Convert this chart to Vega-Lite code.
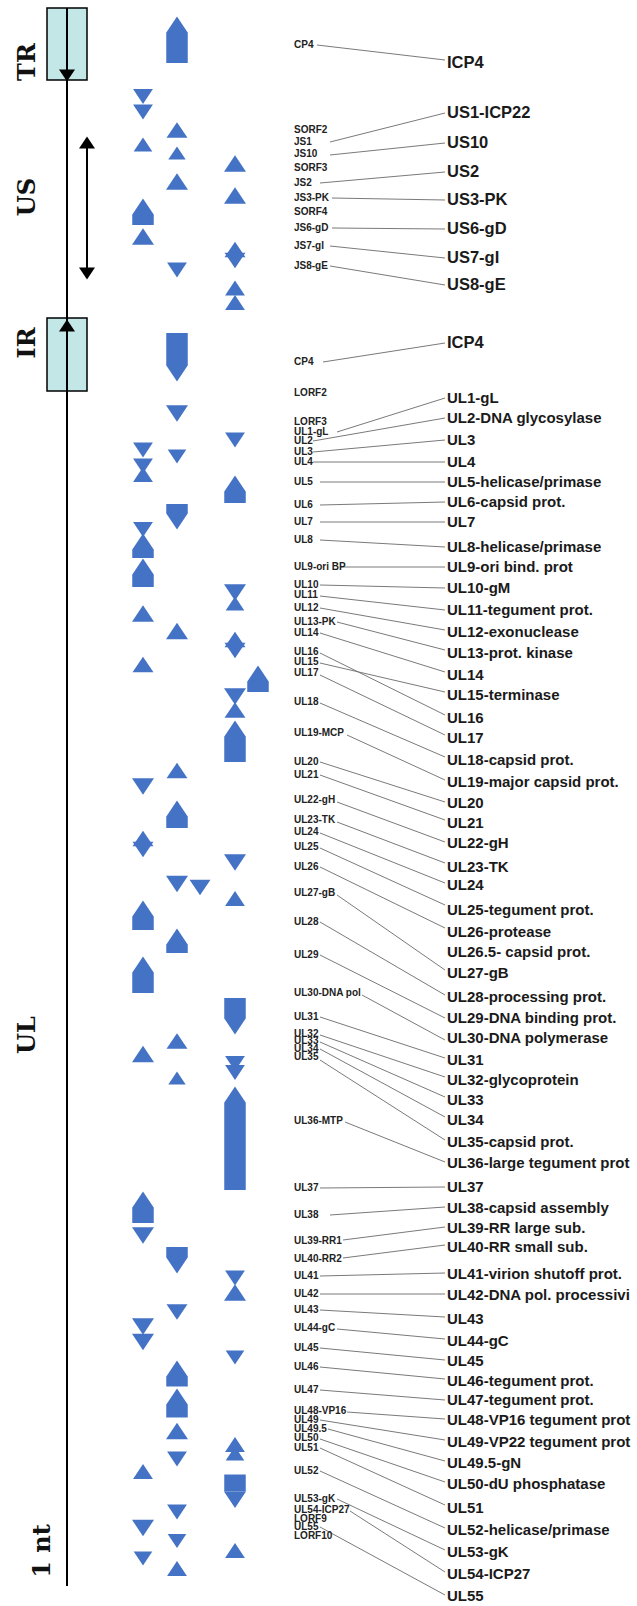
{
  "$schema": "https://vega.github.io/schema/vega-lite/v6.json",
  "width": 637,
  "height": 1606,
  "padding": 0,
  "autosize": {"type": "fit", "contains": "padding"},
  "background": "white",
  "view": {"stroke": null},
  "datasets": {
    "boxes": [
      {"left": 47, "right": 87, "top": 8, "bottom": 80},
      {"left": 47, "right": 87, "top": 318, "bottom": 391}
    ],
    "spines": [
      {"lane": 67, "top": 8, "bottom": 1586},
      {"lane": 87, "top": 142, "bottom": 274}
    ],
    "bodies": [
      {"lane": 177, "top": 33, "bottom": 63},
      {"lane": 143, "top": 215, "bottom": 225},
      {"lane": 177, "top": 333, "bottom": 365},
      {"lane": 235, "top": 492, "bottom": 503},
      {"lane": 177, "top": 504, "bottom": 513},
      {"lane": 143, "top": 550, "bottom": 558},
      {"lane": 143, "top": 575, "bottom": 587},
      {"lane": 258, "top": 682, "bottom": 692},
      {"lane": 235, "top": 737, "bottom": 762},
      {"lane": 177, "top": 817, "bottom": 828},
      {"lane": 143, "top": 917, "bottom": 930},
      {"lane": 177, "top": 945, "bottom": 953},
      {"lane": 143, "top": 973, "bottom": 993},
      {"lane": 235, "top": 998, "bottom": 1018},
      {"lane": 235, "top": 1103, "bottom": 1190},
      {"lane": 143, "top": 1208, "bottom": 1223},
      {"lane": 177, "top": 1247, "bottom": 1257},
      {"lane": 177, "top": 1377, "bottom": 1386.5},
      {"lane": 177, "top": 1405, "bottom": 1417.5},
      {"lane": 235, "top": 1474.5, "bottom": 1491.5}
    ],
    "heads": [
      {"lane": 177, "pos": 24.75, "dir": "up", "sz": "L", "kind": "gene"},
      {"lane": 143, "pos": 96.5, "dir": "down", "sz": "S", "kind": "gene"},
      {"lane": 143, "pos": 112, "dir": "down", "sz": "S", "kind": "gene"},
      {"lane": 143, "pos": 144.5, "dir": "up", "sz": "T", "kind": "gene"},
      {"lane": 177, "pos": 130, "dir": "up", "sz": "M", "kind": "gene"},
      {"lane": 177, "pos": 153, "dir": "up", "sz": "D", "kind": "gene"},
      {"lane": 177, "pos": 181.5, "dir": "up", "sz": "L", "kind": "gene"},
      {"lane": 235, "pos": 163.5, "dir": "up", "sz": "L", "kind": "gene"},
      {"lane": 235, "pos": 195.5, "dir": "up", "sz": "L", "kind": "gene"},
      {"lane": 235, "pos": 249.5, "dir": "up", "sz": "M", "kind": "gene"},
      {"lane": 235, "pos": 260.5, "dir": "down", "sz": "M", "kind": "gene"},
      {"lane": 235, "pos": 288, "dir": "up", "sz": "S", "kind": "gene"},
      {"lane": 235, "pos": 302.5, "dir": "up", "sz": "S", "kind": "gene"},
      {"lane": 143, "pos": 206.75, "dir": "up", "sz": "L", "kind": "gene"},
      {"lane": 143, "pos": 236.5, "dir": "up", "sz": "L", "kind": "gene"},
      {"lane": 177, "pos": 270, "dir": "down", "sz": "S", "kind": "gene"},
      {"lane": 177, "pos": 373.25, "dir": "down", "sz": "L", "kind": "gene"},
      {"lane": 177, "pos": 413.5, "dir": "down", "sz": "L", "kind": "gene"},
      {"lane": 235, "pos": 440, "dir": "down", "sz": "S", "kind": "gene"},
      {"lane": 143, "pos": 450, "dir": "down", "sz": "S", "kind": "gene"},
      {"lane": 143, "pos": 466, "dir": "down", "sz": "S", "kind": "gene"},
      {"lane": 143, "pos": 474.5, "dir": "up", "sz": "S", "kind": "gene"},
      {"lane": 177, "pos": 456.5, "dir": "down", "sz": "T", "kind": "gene"},
      {"lane": 235, "pos": 483.75, "dir": "up", "sz": "L", "kind": "gene"},
      {"lane": 177, "pos": 521.25, "dir": "down", "sz": "L", "kind": "gene"},
      {"lane": 143, "pos": 529.5, "dir": "down", "sz": "S", "kind": "gene"},
      {"lane": 143, "pos": 541.75, "dir": "up", "sz": "L", "kind": "gene"},
      {"lane": 143, "pos": 566.75, "dir": "up", "sz": "L", "kind": "gene"},
      {"lane": 235, "pos": 592.5, "dir": "down", "sz": "L", "kind": "gene"},
      {"lane": 235, "pos": 603.5, "dir": "up", "sz": "T", "kind": "gene"},
      {"lane": 143, "pos": 613.5, "dir": "up", "sz": "L", "kind": "gene"},
      {"lane": 177, "pos": 631, "dir": "up", "sz": "L", "kind": "gene"},
      {"lane": 235, "pos": 639.5, "dir": "up", "sz": "M", "kind": "gene"},
      {"lane": 235, "pos": 650.5, "dir": "down", "sz": "M", "kind": "gene"},
      {"lane": 143, "pos": 664.5, "dir": "up", "sz": "M", "kind": "gene"},
      {"lane": 258, "pos": 673.75, "dir": "up", "sz": "L", "kind": "gene"},
      {"lane": 235, "pos": 696.5, "dir": "down", "sz": "L", "kind": "gene"},
      {"lane": 235, "pos": 710, "dir": "up", "sz": "M", "kind": "gene"},
      {"lane": 235, "pos": 728.75, "dir": "up", "sz": "L", "kind": "gene"},
      {"lane": 177, "pos": 770.5, "dir": "up", "sz": "M", "kind": "gene"},
      {"lane": 143, "pos": 786.5, "dir": "down", "sz": "L", "kind": "gene"},
      {"lane": 177, "pos": 808.75, "dir": "up", "sz": "L", "kind": "gene"},
      {"lane": 143, "pos": 838.5, "dir": "up", "sz": "M", "kind": "gene"},
      {"lane": 143, "pos": 849.5, "dir": "down", "sz": "M", "kind": "gene"},
      {"lane": 235, "pos": 862.5, "dir": "down", "sz": "L", "kind": "gene"},
      {"lane": 177, "pos": 884, "dir": "down", "sz": "L", "kind": "gene"},
      {"lane": 200, "pos": 887.5, "dir": "down", "sz": "M", "kind": "gene"},
      {"lane": 235, "pos": 898.5, "dir": "up", "sz": "S", "kind": "gene"},
      {"lane": 143, "pos": 908.75, "dir": "up", "sz": "L", "kind": "gene"},
      {"lane": 177, "pos": 936.75, "dir": "up", "sz": "L", "kind": "gene"},
      {"lane": 143, "pos": 964.75, "dir": "up", "sz": "L", "kind": "gene"},
      {"lane": 235, "pos": 1026.25, "dir": "down", "sz": "L", "kind": "gene"},
      {"lane": 177, "pos": 1041, "dir": "up", "sz": "M", "kind": "gene"},
      {"lane": 143, "pos": 1054, "dir": "up", "sz": "L", "kind": "gene"},
      {"lane": 235, "pos": 1063.5, "dir": "down", "sz": "S", "kind": "gene"},
      {"lane": 235, "pos": 1072.5, "dir": "down", "sz": "S", "kind": "gene"},
      {"lane": 177, "pos": 1078, "dir": "up", "sz": "D", "kind": "gene"},
      {"lane": 235, "pos": 1094.75, "dir": "up", "sz": "L", "kind": "gene"},
      {"lane": 143, "pos": 1199.75, "dir": "up", "sz": "L", "kind": "gene"},
      {"lane": 143, "pos": 1235.5, "dir": "down", "sz": "L", "kind": "gene"},
      {"lane": 177, "pos": 1265.25, "dir": "down", "sz": "L", "kind": "gene"},
      {"lane": 235, "pos": 1278, "dir": "down", "sz": "S", "kind": "gene"},
      {"lane": 235, "pos": 1292.5, "dir": "up", "sz": "L", "kind": "gene"},
      {"lane": 177, "pos": 1312, "dir": "down", "sz": "M", "kind": "gene"},
      {"lane": 143, "pos": 1326.5, "dir": "down", "sz": "L", "kind": "gene"},
      {"lane": 143, "pos": 1342, "dir": "down", "sz": "L", "kind": "gene"},
      {"lane": 235, "pos": 1357.5, "dir": "down", "sz": "T", "kind": "gene"},
      {"lane": 177, "pos": 1368.75, "dir": "up", "sz": "L", "kind": "gene"},
      {"lane": 177, "pos": 1396.75, "dir": "up", "sz": "L", "kind": "gene"},
      {"lane": 177, "pos": 1431, "dir": "up", "sz": "L", "kind": "gene"},
      {"lane": 235, "pos": 1444.5, "dir": "up", "sz": "S", "kind": "gene"},
      {"lane": 235, "pos": 1453.5, "dir": "up", "sz": "T", "kind": "gene"},
      {"lane": 177, "pos": 1459, "dir": "down", "sz": "S", "kind": "gene"},
      {"lane": 143, "pos": 1471.5, "dir": "up", "sz": "S", "kind": "gene"},
      {"lane": 235, "pos": 1499.75, "dir": "down", "sz": "L", "kind": "gene"},
      {"lane": 177, "pos": 1512, "dir": "down", "sz": "S", "kind": "gene"},
      {"lane": 143, "pos": 1528, "dir": "down", "sz": "L", "kind": "gene"},
      {"lane": 177, "pos": 1541, "dir": "down", "sz": "T", "kind": "gene"},
      {"lane": 235, "pos": 1550.5, "dir": "up", "sz": "S", "kind": "gene"},
      {"lane": 143, "pos": 1558.5, "dir": "down", "sz": "T", "kind": "gene"},
      {"lane": 177, "pos": 1568.5, "dir": "up", "sz": "S", "kind": "gene"},
      {"lane": 67, "pos": 75.5, "dir": "down", "sz": "A", "kind": "axis"},
      {"lane": 67, "pos": 325.5, "dir": "up", "sz": "A", "kind": "axis"},
      {"lane": 87, "pos": 142.5, "dir": "up", "sz": "A", "kind": "axis"},
      {"lane": 87, "pos": 273.5, "dir": "down", "sz": "A", "kind": "axis"}
    ],
    "links": [
      {"x_from": 317, "y_from": 45, "x_to": 445, "y_to": 60},
      {"x_from": 330, "y_from": 142, "x_to": 445, "y_to": 113},
      {"x_from": 330, "y_from": 155, "x_to": 445, "y_to": 143},
      {"x_from": 320, "y_from": 183, "x_to": 445, "y_to": 172},
      {"x_from": 332, "y_from": 198, "x_to": 445, "y_to": 200},
      {"x_from": 332, "y_from": 228, "x_to": 445, "y_to": 229},
      {"x_from": 330, "y_from": 246, "x_to": 445, "y_to": 258},
      {"x_from": 330, "y_from": 266, "x_to": 445, "y_to": 285},
      {"x_from": 323, "y_from": 362, "x_to": 445, "y_to": 343},
      {"x_from": 337, "y_from": 432, "x_to": 445, "y_to": 398},
      {"x_from": 313, "y_from": 441, "x_to": 445, "y_to": 418},
      {"x_from": 313, "y_from": 452, "x_to": 445, "y_to": 440},
      {"x_from": 313, "y_from": 462, "x_to": 445, "y_to": 462},
      {"x_from": 320, "y_from": 482, "x_to": 445, "y_to": 482},
      {"x_from": 320, "y_from": 505, "x_to": 445, "y_to": 502},
      {"x_from": 320, "y_from": 522, "x_to": 445, "y_to": 522},
      {"x_from": 320, "y_from": 540, "x_to": 445, "y_to": 547},
      {"x_from": 340, "y_from": 567, "x_to": 445, "y_to": 567},
      {"x_from": 320, "y_from": 585, "x_to": 445, "y_to": 588},
      {"x_from": 320, "y_from": 596, "x_to": 445, "y_to": 610},
      {"x_from": 320, "y_from": 608, "x_to": 445, "y_to": 630},
      {"x_from": 337, "y_from": 622, "x_to": 445, "y_to": 650},
      {"x_from": 320, "y_from": 633, "x_to": 445, "y_to": 672},
      {"x_from": 320, "y_from": 653, "x_to": 445, "y_to": 715},
      {"x_from": 320, "y_from": 663, "x_to": 445, "y_to": 692},
      {"x_from": 320, "y_from": 675, "x_to": 445, "y_to": 735},
      {"x_from": 320, "y_from": 703, "x_to": 445, "y_to": 757},
      {"x_from": 347, "y_from": 735, "x_to": 445, "y_to": 780},
      {"x_from": 320, "y_from": 762, "x_to": 445, "y_to": 802},
      {"x_from": 320, "y_from": 775, "x_to": 445, "y_to": 820},
      {"x_from": 337, "y_from": 802, "x_to": 445, "y_to": 842},
      {"x_from": 337, "y_from": 822, "x_to": 445, "y_to": 863},
      {"x_from": 320, "y_from": 833, "x_to": 445, "y_to": 883},
      {"x_from": 320, "y_from": 848, "x_to": 445, "y_to": 905},
      {"x_from": 320, "y_from": 867, "x_to": 445, "y_to": 928},
      {"x_from": 337, "y_from": 895, "x_to": 445, "y_to": 970},
      {"x_from": 320, "y_from": 922, "x_to": 445, "y_to": 995},
      {"x_from": 320, "y_from": 955, "x_to": 445, "y_to": 1018},
      {"x_from": 362, "y_from": 995, "x_to": 445, "y_to": 1040},
      {"x_from": 320, "y_from": 1017, "x_to": 445, "y_to": 1058},
      {"x_from": 320, "y_from": 1035, "x_to": 445, "y_to": 1077},
      {"x_from": 320, "y_from": 1042, "x_to": 445, "y_to": 1097},
      {"x_from": 320, "y_from": 1049, "x_to": 445, "y_to": 1117},
      {"x_from": 320, "y_from": 1060, "x_to": 445, "y_to": 1140},
      {"x_from": 345, "y_from": 1122, "x_to": 445, "y_to": 1162},
      {"x_from": 320, "y_from": 1188, "x_to": 445, "y_to": 1187},
      {"x_from": 330, "y_from": 1215, "x_to": 445, "y_to": 1207},
      {"x_from": 343, "y_from": 1240, "x_to": 445, "y_to": 1227},
      {"x_from": 343, "y_from": 1258, "x_to": 445, "y_to": 1245},
      {"x_from": 320, "y_from": 1276, "x_to": 445, "y_to": 1273},
      {"x_from": 320, "y_from": 1294, "x_to": 445, "y_to": 1294},
      {"x_from": 320, "y_from": 1310, "x_to": 445, "y_to": 1317},
      {"x_from": 337, "y_from": 1329, "x_to": 445, "y_to": 1339},
      {"x_from": 320, "y_from": 1348, "x_to": 445, "y_to": 1360},
      {"x_from": 320, "y_from": 1367, "x_to": 445, "y_to": 1379},
      {"x_from": 320, "y_from": 1390, "x_to": 445, "y_to": 1400},
      {"x_from": 347, "y_from": 1412, "x_to": 445, "y_to": 1419},
      {"x_from": 320, "y_from": 1420, "x_to": 445, "y_to": 1440},
      {"x_from": 328, "y_from": 1429, "x_to": 445, "y_to": 1461},
      {"x_from": 320, "y_from": 1439, "x_to": 445, "y_to": 1482},
      {"x_from": 320, "y_from": 1448, "x_to": 445, "y_to": 1505},
      {"x_from": 320, "y_from": 1471, "x_to": 445, "y_to": 1528},
      {"x_from": 337, "y_from": 1499, "x_to": 445, "y_to": 1550},
      {"x_from": 350, "y_from": 1511, "x_to": 445, "y_to": 1572},
      {"x_from": 320, "y_from": 1527, "x_to": 445, "y_to": 1595}
    ],
    "small": [
      {"label": "CP4", "lane": 294, "pos": 45},
      {"label": "SORF2", "lane": 294, "pos": 130},
      {"label": "JS1", "lane": 294, "pos": 142},
      {"label": "JS10", "lane": 294, "pos": 154},
      {"label": "SORF3", "lane": 294, "pos": 168},
      {"label": "JS2", "lane": 294, "pos": 183},
      {"label": "JS3-PK", "lane": 294, "pos": 198},
      {"label": "SORF4", "lane": 294, "pos": 212},
      {"label": "JS6-gD", "lane": 294, "pos": 228},
      {"label": "JS7-gI", "lane": 294, "pos": 246},
      {"label": "JS8-gE", "lane": 294, "pos": 266},
      {"label": "CP4", "lane": 294, "pos": 362},
      {"label": "LORF2", "lane": 294, "pos": 393},
      {"label": "LORF3", "lane": 294, "pos": 422},
      {"label": "UL1-gL", "lane": 294, "pos": 432},
      {"label": "UL2", "lane": 294, "pos": 441},
      {"label": "UL3", "lane": 294, "pos": 452},
      {"label": "UL4", "lane": 294, "pos": 462},
      {"label": "UL5", "lane": 294, "pos": 482},
      {"label": "UL6", "lane": 294, "pos": 505},
      {"label": "UL7", "lane": 294, "pos": 522},
      {"label": "UL8", "lane": 294, "pos": 540},
      {"label": "UL9-ori BP", "lane": 294, "pos": 567},
      {"label": "UL10", "lane": 294, "pos": 585},
      {"label": "UL11", "lane": 294, "pos": 595},
      {"label": "UL12", "lane": 294, "pos": 608},
      {"label": "UL13-PK", "lane": 294, "pos": 622},
      {"label": "UL14", "lane": 294, "pos": 633},
      {"label": "UL16", "lane": 294, "pos": 652},
      {"label": "UL15", "lane": 294, "pos": 662},
      {"label": "UL17", "lane": 294, "pos": 673},
      {"label": "UL18", "lane": 294, "pos": 702},
      {"label": "UL19-MCP", "lane": 294, "pos": 733},
      {"label": "UL20", "lane": 294, "pos": 762},
      {"label": "UL21", "lane": 294, "pos": 775},
      {"label": "UL22-gH", "lane": 294, "pos": 800},
      {"label": "UL23-TK", "lane": 294, "pos": 820},
      {"label": "UL24", "lane": 294, "pos": 832},
      {"label": "UL25", "lane": 294, "pos": 847},
      {"label": "UL26", "lane": 294, "pos": 867},
      {"label": "UL27-gB", "lane": 294, "pos": 893},
      {"label": "UL28", "lane": 294, "pos": 922},
      {"label": "UL29", "lane": 294, "pos": 955},
      {"label": "UL30-DNA pol", "lane": 294, "pos": 993},
      {"label": "UL31", "lane": 294, "pos": 1017},
      {"label": "UL32", "lane": 294, "pos": 1034},
      {"label": "UL33", "lane": 294, "pos": 1041},
      {"label": "UL34", "lane": 294, "pos": 1049},
      {"label": "UL35", "lane": 294, "pos": 1057},
      {"label": "UL36-MTP", "lane": 294, "pos": 1121},
      {"label": "UL37", "lane": 294, "pos": 1188},
      {"label": "UL38", "lane": 294, "pos": 1215},
      {"label": "UL39-RR1", "lane": 294, "pos": 1241},
      {"label": "UL40-RR2", "lane": 294, "pos": 1259},
      {"label": "UL41", "lane": 294, "pos": 1276},
      {"label": "UL42", "lane": 294, "pos": 1294},
      {"label": "UL43", "lane": 294, "pos": 1310},
      {"label": "UL44-gC", "lane": 294, "pos": 1328},
      {"label": "UL45", "lane": 294, "pos": 1348},
      {"label": "UL46", "lane": 294, "pos": 1367},
      {"label": "UL47", "lane": 294, "pos": 1390},
      {"label": "UL48-VP16", "lane": 294, "pos": 1411},
      {"label": "UL49", "lane": 294, "pos": 1420},
      {"label": "UL49.5", "lane": 294, "pos": 1429},
      {"label": "UL50", "lane": 294, "pos": 1438},
      {"label": "UL51", "lane": 294, "pos": 1448},
      {"label": "UL52", "lane": 294, "pos": 1471},
      {"label": "UL53-gK", "lane": 294, "pos": 1499},
      {"label": "UL54-ICP27", "lane": 294, "pos": 1510},
      {"label": "LORF9", "lane": 294, "pos": 1519},
      {"label": "UL55", "lane": 294, "pos": 1527},
      {"label": "LORF10", "lane": 294, "pos": 1536}
    ],
    "big": [
      {"label": "ICP4", "lane": 447, "pos": 63, "sec": "US"},
      {"label": "US1-ICP22", "lane": 447, "pos": 113, "sec": "US"},
      {"label": "US10", "lane": 447, "pos": 143, "sec": "US"},
      {"label": "US2", "lane": 447, "pos": 172, "sec": "US"},
      {"label": "US3-PK", "lane": 447, "pos": 200, "sec": "US"},
      {"label": "US6-gD", "lane": 447, "pos": 229, "sec": "US"},
      {"label": "US7-gI", "lane": 447, "pos": 258, "sec": "US"},
      {"label": "US8-gE", "lane": 447, "pos": 285, "sec": "US"},
      {"label": "ICP4", "lane": 447, "pos": 343, "sec": "US"},
      {"label": "UL1-gL", "lane": 447, "pos": 398, "sec": "UL"},
      {"label": "UL2-DNA glycosylase", "lane": 447, "pos": 418, "sec": "UL"},
      {"label": "UL3", "lane": 447, "pos": 440, "sec": "UL"},
      {"label": "UL4", "lane": 447, "pos": 462, "sec": "UL"},
      {"label": "UL5-helicase/primase", "lane": 447, "pos": 482, "sec": "UL"},
      {"label": "UL6-capsid prot.", "lane": 447, "pos": 502, "sec": "UL"},
      {"label": "UL7", "lane": 447, "pos": 522, "sec": "UL"},
      {"label": "UL8-helicase/primase", "lane": 447, "pos": 547, "sec": "UL"},
      {"label": "UL9-ori bind. prot", "lane": 447, "pos": 567, "sec": "UL"},
      {"label": "UL10-gM", "lane": 447, "pos": 588, "sec": "UL"},
      {"label": "UL11-tegument prot.", "lane": 447, "pos": 610, "sec": "UL"},
      {"label": "UL12-exonuclease", "lane": 447, "pos": 632, "sec": "UL"},
      {"label": "UL13-prot. kinase", "lane": 447, "pos": 653, "sec": "UL"},
      {"label": "UL14", "lane": 447, "pos": 675, "sec": "UL"},
      {"label": "UL15-terminase", "lane": 447, "pos": 695, "sec": "UL"},
      {"label": "UL16", "lane": 447, "pos": 718, "sec": "UL"},
      {"label": "UL17", "lane": 447, "pos": 738, "sec": "UL"},
      {"label": "UL18-capsid prot.", "lane": 447, "pos": 760, "sec": "UL"},
      {"label": "UL19-major capsid prot.", "lane": 447, "pos": 782, "sec": "UL"},
      {"label": "UL20", "lane": 447, "pos": 803, "sec": "UL"},
      {"label": "UL21", "lane": 447, "pos": 823, "sec": "UL"},
      {"label": "UL22-gH", "lane": 447, "pos": 843, "sec": "UL"},
      {"label": "UL23-TK", "lane": 447, "pos": 867, "sec": "UL"},
      {"label": "UL24", "lane": 447, "pos": 885, "sec": "UL"},
      {"label": "UL25-tegument prot.", "lane": 447, "pos": 910, "sec": "UL"},
      {"label": "UL26-protease", "lane": 447, "pos": 932, "sec": "UL"},
      {"label": "UL26.5- capsid prot.", "lane": 447, "pos": 952, "sec": "UL"},
      {"label": "UL27-gB", "lane": 447, "pos": 973, "sec": "UL"},
      {"label": "UL28-processing prot.", "lane": 447, "pos": 997, "sec": "UL"},
      {"label": "UL29-DNA binding prot.", "lane": 447, "pos": 1018, "sec": "UL"},
      {"label": "UL30-DNA polymerase", "lane": 447, "pos": 1038, "sec": "UL"},
      {"label": "UL31", "lane": 447, "pos": 1060, "sec": "UL"},
      {"label": "UL32-glycoprotein", "lane": 447, "pos": 1080, "sec": "UL"},
      {"label": "UL33", "lane": 447, "pos": 1100, "sec": "UL"},
      {"label": "UL34", "lane": 447, "pos": 1120, "sec": "UL"},
      {"label": "UL35-capsid prot.", "lane": 447, "pos": 1142, "sec": "UL"},
      {"label": "UL36-large tegument prot", "lane": 447, "pos": 1163, "sec": "UL"},
      {"label": "UL37", "lane": 447, "pos": 1187, "sec": "UL"},
      {"label": "UL38-capsid assembly", "lane": 447, "pos": 1208, "sec": "UL"},
      {"label": "UL39-RR large sub.", "lane": 447, "pos": 1228, "sec": "UL"},
      {"label": "UL40-RR small sub.", "lane": 447, "pos": 1247, "sec": "UL"},
      {"label": "UL41-virion shutoff prot.", "lane": 447, "pos": 1274, "sec": "UL"},
      {"label": "UL42-DNA pol. processivi", "lane": 447, "pos": 1295, "sec": "UL"},
      {"label": "UL43", "lane": 447, "pos": 1319, "sec": "UL"},
      {"label": "UL44-gC", "lane": 447, "pos": 1341, "sec": "UL"},
      {"label": "UL45", "lane": 447, "pos": 1361, "sec": "UL"},
      {"label": "UL46-tegument prot.", "lane": 447, "pos": 1381, "sec": "UL"},
      {"label": "UL47-tegument prot.", "lane": 447, "pos": 1400, "sec": "UL"},
      {"label": "UL48-VP16 tegument prot", "lane": 447, "pos": 1420, "sec": "UL"},
      {"label": "UL49-VP22 tegument prot", "lane": 447, "pos": 1442, "sec": "UL"},
      {"label": "UL49.5-gN", "lane": 447, "pos": 1463, "sec": "UL"},
      {"label": "UL50-dU phosphatase", "lane": 447, "pos": 1484, "sec": "UL"},
      {"label": "UL51", "lane": 447, "pos": 1508, "sec": "UL"},
      {"label": "UL52-helicase/primase", "lane": 447, "pos": 1530, "sec": "UL"},
      {"label": "UL53-gK", "lane": 447, "pos": 1552, "sec": "UL"},
      {"label": "UL54-ICP27", "lane": 447, "pos": 1574, "sec": "UL"},
      {"label": "UL55", "lane": 447, "pos": 1596, "sec": "UL"}
    ],
    "regions": [
      {"label": "TR", "lane": 35, "pos": 62},
      {"label": "US", "lane": 35, "pos": 197},
      {"label": "IR", "lane": 35, "pos": 343},
      {"label": "UL", "lane": 35, "pos": 1035},
      {"label": "1 nt", "lane": 50, "pos": 1551}
    ]
  },
  "layer": [
    {
      "data": {"name": "boxes"},
      "mark": {"type": "rect", "fill": "#c3e6e6", "stroke": "#000000", "strokeWidth": 1.5},
      "encoding": {
        "x": {"field": "left", "type": "quantitative", "scale": {"domain": [0, 637], "nice": false, "zero": false}, "axis": null},
        "x2": {"field": "right"},
        "y": {"field": "top", "type": "quantitative", "scale": {"domain": [0, 1606], "nice": false, "zero": false, "reverse": true}, "axis": null},
        "y2": {"field": "bottom"}
      }
    },
    {
      "data": {"name": "spines"},
      "mark": {"type": "rule", "color": "#000000", "strokeWidth": 2},
      "encoding": {
        "x": {"field": "lane", "type": "quantitative"},
        "y": {"field": "top", "type": "quantitative"},
        "y2": {"field": "bottom"}
      }
    },
    {
      "data": {"name": "links"},
      "mark": {"type": "rule", "color": "#7a7a7a", "strokeWidth": 1},
      "encoding": {
        "x": {"field": "x_from", "type": "quantitative"},
        "x2": {"field": "x_to"},
        "y": {"field": "y_from", "type": "quantitative"},
        "y2": {"field": "y_to"}
      }
    },
    {
      "data": {"name": "bodies"},
      "mark": {"type": "rule", "color": "#4472c4", "strokeWidth": 21.5, "strokeCap": "butt"},
      "encoding": {
        "x": {"field": "lane", "type": "quantitative"},
        "y": {"field": "top", "type": "quantitative"},
        "y2": {"field": "bottom"}
      }
    },
    {
      "data": {"name": "heads"},
      "mark": {"type": "point", "filled": true, "opacity": 1, "strokeWidth": 0},
      "encoding": {
        "x": {"field": "lane", "type": "quantitative"},
        "y": {"field": "pos", "type": "quantitative"},
        "shape": {"field": "dir", "type": "nominal", "legend": null,
          "scale": {"domain": ["up", "down"], "range": ["M0,-0.75L1,0.75L-1,0.75Z", "M0,0.75L1,-0.75L-1,-0.75Z"]}},
        "size": {"field": "sz", "type": "ordinal", "legend": null,
          "scale": {"domain": ["L", "M", "S", "T", "D", "A"], "range": [484, 256, 121, 56, 25, 144]}},
        "color": {"field": "kind", "type": "nominal", "legend": null,
          "scale": {"domain": ["gene", "axis"], "range": ["#4472c4", "#000000"]}}
      }
    },
    {
      "data": {"name": "small"},
      "mark": {"type": "text", "align": "left", "baseline": "middle", "font": "Liberation Sans", "fontWeight": "bold", "fontSize": 10, "color": "#222222"},
      "encoding": {
        "x": {"field": "lane", "type": "quantitative"},
        "y": {"field": "pos", "type": "quantitative"},
        "text": {"field": "label"}
      }
    },
    {
      "data": {"name": "big"},
      "mark": {"type": "text", "align": "left", "baseline": "middle", "font": "Liberation Sans", "fontWeight": "bold", "color": "#1a1a1a"},
      "encoding": {
        "x": {"field": "lane", "type": "quantitative"},
        "y": {"field": "pos", "type": "quantitative"},
        "text": {"field": "label"},
        "size": {"field": "sec", "type": "nominal", "legend": null, "scale": {"type": "ordinal", "domain": ["US", "UL"], "range": [16.5, 15]}}
      }
    },
    {
      "data": {"name": "regions"},
      "mark": {"type": "text", "align": "center", "baseline": "alphabetic", "angle": 270, "font": "DejaVu Serif", "fontWeight": "bold", "fontSize": 24, "color": "#111111"},
      "encoding": {
        "x": {"field": "lane", "type": "quantitative"},
        "y": {"field": "pos", "type": "quantitative"},
        "text": {"field": "label"}
      }
    }
  ]
}
